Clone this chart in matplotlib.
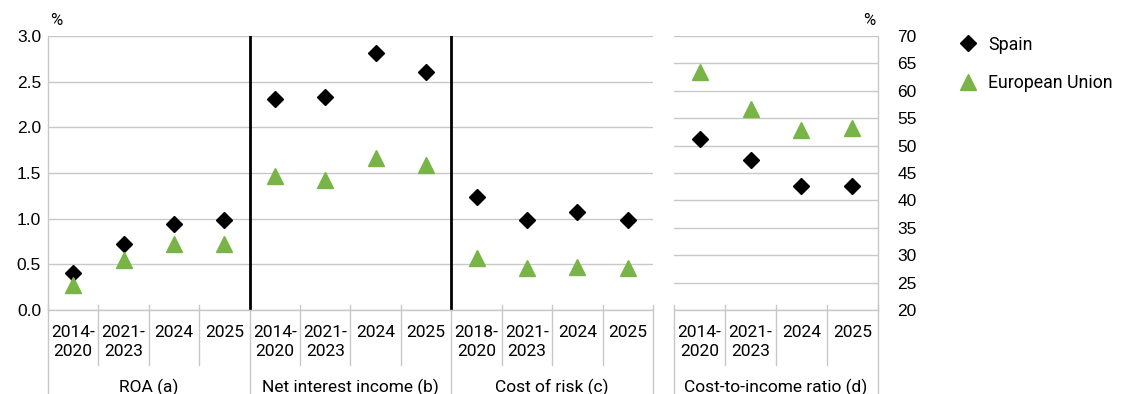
import numpy as np
import matplotlib
matplotlib.use("Agg")
import matplotlib.pyplot as plt
from matplotlib.lines import Line2D

plt.rcParams['font.family'] = ['Roboto', 'DejaVu Sans']
plt.rcParams['font.size'] = 12.5

# categories of each block
groups = ["ROA (a)", "Net interest income (b)", "Cost of risk (c)"]
periods_left = [
    ["2014-\n2020", "2021-\n2023", "2024", "2025"],
    ["2014-\n2020", "2021-\n2023", "2024", "2025"],
    ["2018-\n2020", "2021-\n2023", "2024", "2025"],
]
spain_left = [0.40, 0.72, 0.94, 0.98,
              2.31, 2.33, 2.81, 2.61,
              1.24, 0.99, 1.07, 0.99]
eu_left = [0.27, 0.55, 0.72, 0.72,
           1.47, 1.42, 1.66, 1.59,
           0.57, 0.46, 0.47, 0.46]

group_right = "Cost-to-income ratio (d)"
periods_right = ["2014-\n2020", "2021-\n2023", "2024", "2025"]
spain_right = [51.2, 47.4, 42.6, 42.6]
eu_right = [63.4, 56.7, 52.8, 53.2]

GREEN = "#78b447"
GRID = "#c8c8c8"
TICKFONT = dict(family='Liberation Sans', size=12.5)

fig = plt.figure(figsize=(11.23, 3.94), dpi=100)
ax = fig.add_axes([0.0427, 0.2132, 0.5388, 0.6954])
ax2 = fig.add_axes([0.6002, 0.2132, 0.1816, 0.6954])


def style_axis(a, n):
    a.set_xlim(0, n)
    a.grid(axis='y', color=GRID, lw=1)
    a.set_axisbelow(True)
    for s in a.spines.values():
        s.set_color(GRID)
        s.set_linewidth(1)
    a.spines['top'].set_visible(False)
    a.tick_params(axis='y', length=0, pad=5)
    a.tick_params(axis='x', length=0, pad=11)


def separators(a, n, per_group):
    # short lines between periods, long lines between groups
    for i in range(n + 1):
        long = i % per_group == 0
        a.add_line(Line2D([i, i], [0.018, -0.33 if long else -0.2], color=GRID, lw=1,
                          transform=a.get_xaxis_transform(), clip_on=False))


# left block
x = np.arange(len(spain_left)) + 0.5
style_axis(ax, len(spain_left))
ax.spines['right'].set_visible(False)
ax.set_ylim(0, 3.0)
yt = np.arange(0, 3.01, 0.5)
ax.set_yticks(yt)
ax.set_yticklabels([f"{v:.1f}" for v in yt], fontdict=TICKFONT)
ax.set_xticks(x)
ax.set_xticklabels([p for g in periods_left for p in g], linespacing=1.3, va='top')
separators(ax, len(spain_left), 4)
for b in (4, 8):
    ax.axvline(b, color='black', lw=2)
ax.plot(x, spain_left, ls='none', marker='D', ms=8.5, color='black', zorder=3)
ax.plot(x, eu_left, ls='none', marker='^', ms=11, color=GREEN, zorder=3)
for k, g in enumerate(groups):
    ax.text(4 * k + 2, -0.25, g, transform=ax.get_xaxis_transform(),
            ha='center', va='top', fontsize=12.5)
ax.text(0.004, 1.03, "%", transform=ax.transAxes, fontsize=12, ha='left', va='bottom')

# right block
x2 = np.arange(len(spain_right)) + 0.5
style_axis(ax2, len(spain_right))
ax2.spines['left'].set_visible(False)
ax2.yaxis.tick_right()
ax2.set_ylim(20, 70)
yt2 = np.arange(20, 71, 5)
ax2.set_yticks(yt2)
ax2.set_yticklabels([str(v) for v in yt2], fontdict=TICKFONT)
ax2.tick_params(axis='y', pad=14)
ax2.set_xticks(x2)
ax2.set_xticklabels(periods_right, linespacing=1.3, va='top')
separators(ax2, len(spain_right), 4)
ax2.plot(x2, spain_right, ls='none', marker='D', ms=8.5, color='black', zorder=3)
ax2.plot(x2, eu_right, ls='none', marker='^', ms=11, color=GREEN, zorder=3)
ax2.text(2, -0.25, group_right, transform=ax2.get_xaxis_transform(),
         ha='center', va='top', fontsize=12.5)
ax2.text(0.985, 1.03, "%", transform=ax2.transAxes, fontsize=12, ha='right', va='bottom')

handles = [
    Line2D([], [], ls='none', marker='D', ms=8.5, color='black', label='Spain'),
    Line2D([], [], ls='none', marker='^', ms=11, color=GREEN, label='European Union'),
]
fig.legend(handles=handles, loc='upper left', bbox_to_anchor=(0.838, 0.95),
           frameon=False, fontsize=12.8, handletextpad=0.55, labelspacing=1.15,
           handlelength=1.2)

fig.savefig("out.png", dpi=100)
